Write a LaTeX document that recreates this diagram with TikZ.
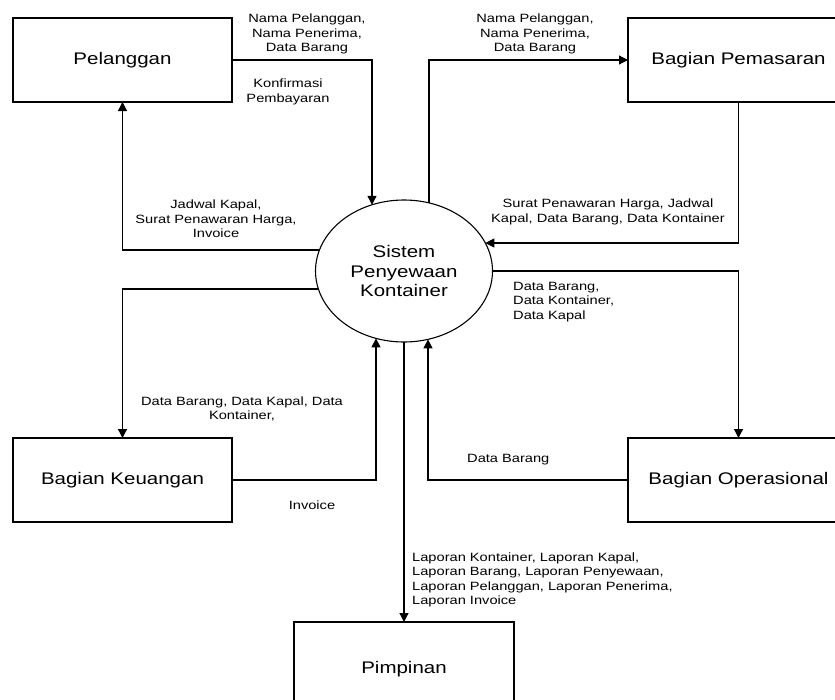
\documentclass[tikz,border=0pt]{standalone}
\usepackage{fontspec}
\setmainfont[FakeStretch=1.22]{Liberation Sans}
\usetikzlibrary{arrows.meta,shapes.geometric,calc}

\begin{document}
\begin{tikzpicture}[x=1pt,y=1pt,
  entity/.style={draw,line width=1.2pt,inner sep=0pt,outer sep=0pt,
    minimum height=84pt,font=\fontsize{16.8}{19.5}\selectfont},
  process/.style={draw,ellipse,line width=1.1pt,inner sep=0pt,outer sep=0pt,
    minimum width=177pt,minimum height=142pt,align=center,
    font=\fontsize{16.8}{19.5}\selectfont},
  flow/.style={line width=1.2pt,-{Triangle[length=9pt,width=9pt]}},
  lbl/.style={inner sep=0pt,font=\fontsize{12}{14.3}\selectfont},
]
\useasboundingbox (0,0) rectangle (835,-699);
\clip (0,0) rectangle (835,-699);

% external entities
\node[entity,minimum width=219pt] (pel) at (122.5,-60) {Pelanggan};
\node[entity,minimum width=221pt] (pem) at (738.5,-60) {Bagian Pemasaran};
\node[entity,minimum width=219pt] (keu) at (122.5,-480) {Bagian Keuangan};
\node[entity,minimum width=221pt] (ops) at (738.5,-480) {Bagian Operasional};
\node[entity,minimum width=220pt,minimum height=94pt] (pim) at (404,-669) {Pimpinan};

% the process
\node[process] (ell) at (404,-271) {Sistem\\Penyewaan\\Kontainer};

% points on the process border where the flows attach
\coordinate (inPel)  at ($(ell.center)+(-32,{71*sqrt(1-(32/88.5)^2)})$);
\coordinate (outPel) at ($(ell.center)+({-88.5*sqrt(1-(21/71)^2)},21)$);
\coordinate (outPem) at ($(ell.center)+(25,{71*sqrt(1-(25/88.5)^2)})$);
\coordinate (inPem)  at ($(ell.center)+({88.5*sqrt(1-(28/71)^2)},28)$);
\coordinate (outKeu) at ($(ell.center)+({-88.5*sqrt(1-(18/71)^2)},-18)$);
\coordinate (inKeu)  at ($(ell.center)+(-28,{-71*sqrt(1-(28/88.5)^2)})$);
\coordinate (inOps)  at ($(ell.center)+(24,{-71*sqrt(1-(24/88.5)^2)})$);

% data flows
\draw[flow] (pel.east) -| (inPel);
\draw[flow] (outPel) -| (pel.south);
\draw[flow] (outPem) |- (pem.west);
\draw[flow] (pem.south) |- (inPem);
\draw[flow] (outKeu) -| (keu.north);
\draw[flow] (keu.east) -| (inKeu);
\draw[flow] (ell.east) -| (ops.north);
\draw[flow] (ops.west) -| (inOps);
\draw[flow] (ell.south) -- (pim.north);

% flow labels
\node[lbl,align=center] (l1) at (307,-34) {Nama Pelanggan,\\Nama Penerima,\\Data Barang};
\node[lbl,align=center] (l2) at (288,-92) {Konfirmasi\\Pembayaran};
\node[lbl,align=center] (l3) at (216,-219) {Jadwal Kapal,\\Surat Penawaran Harga,\\Invoice};
\node[lbl,align=center] (l4) at (535,-34) {Nama Pelanggan,\\Nama Penerima,\\Data Barang};
\node[lbl,align=center] (l5) at (608,-212) {Surat Penawaran Harga, Jadwal\\Kapal, Data Barang, Data Kontainer};
\node[lbl,align=center] (l6) at (242,-409) {Data Barang, Data Kapal, Data\\Kontainer,};
\node[lbl] (l7) at (312,-505) {Invoice};
\node[lbl,align=left,anchor=west] (l8) at (513,-302) {Data Barang,\\Data Kontainer,\\Data Kapal};
\node[lbl,anchor=west] (l9) at (467,-460) {Data Barang};
\node[lbl,align=left,anchor=west] (l10) at (412,-580) {Laporan Kontainer, Laporan Kapal,\\Laporan Barang, Laporan Penyewaan,\\Laporan Pelanggan, Laporan Penerima,\\Laporan Invoice};
\end{tikzpicture}
\end{document}
